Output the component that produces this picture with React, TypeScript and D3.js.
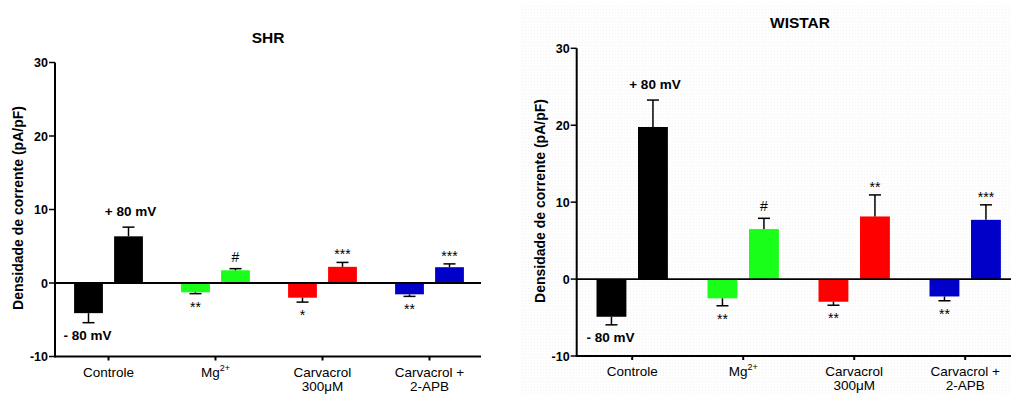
import * as d3 from 'd3';

const categories = ['Controle', 'Mg', 'Carvacrol', 'Carvacrol +'];
const categorySecondLine = ['', '', '300μM', '2-APB'];
const colors = ['#000000', '#1aff1a', '#ff0000', '#0000c8'];

// SHR values (pA/pF)
const shrNeg = [-4.1, -1.27, -2.0, -1.54];
const shrNegErr = [1.3, 0.18, 0.6, 0.28];
const shrPos = [6.35, 1.73, 2.2, 2.15];
const shrPosErr = [1.25, 0.22, 0.6, 0.45];
const shrNegSig = ['', '**', '*', '**'];
const shrPosSig = ['', '#', '***', '***'];

// WISTAR values (pA/pF)
const wistarNeg = [-4.9, -2.5, -2.95, -2.26];
const wistarNegErr = [1.05, 0.97, 0.45, 0.56];
const wistarPos = [19.77, 6.5, 8.14, 7.7];
const wistarPosErr = [3.5, 1.4, 2.8, 1.95];
const wistarNegSig = ['', '**', '**', '**'];
const wistarPosSig = ['', '#', '**', '***'];

const yTicks = [-10, 0, 10, 20, 30];

const FONT = 'Arial, "Liberation Sans", sans-serif';

interface PanelProps {
  title: string;
  neg: number[];
  negErr: number[];
  pos: number[];
  posErr: number[];
  negSig: string[];
  posSig: string[];
  x0: number;
  step: number;
  axisEnd: number;
  yTop: number;
  yBottom: number;
  titleX: number;
  titleY: number;
  labelX: number;
  labelY: number;
}

const Panel = (p: PanelProps) => {
  const x = d3.scaleBand<string>().domain(categories).range([p.x0, p.x0 + 4 * p.step]).padding(0);
  const y = d3.scaleLinear().domain([-10, 30]).range([p.yBottom, p.yTop]);
  const span = p.step * 0.643;
  const sub = d3.scaleBand<string>().domain(['neg', 'pos']).range([-span / 2, span / 2]).paddingInner(0.28);
  const bw = sub.bandwidth();
  const y0 = y(0);
  const cap = 12;

  return (
    <g>
      <text x={p.titleX} y={p.titleY} textAnchor="middle" fontSize={15.5} fontWeight="bold" fontFamily={FONT}>
        {p.title}
      </text>
      <text
        transform={`translate(${p.labelX},${p.labelY}) rotate(-90)`}
        textAnchor="middle"
        fontSize={14}
        fontWeight="bold"
        fontFamily={FONT}
      >
        Densidade de corrente (pA/pF)
      </text>

      {categories.map((c, i) => {
        const cx = (x(c) as number) + p.step / 2;
        const bars = [
          { key: 'neg', v: p.neg[i], e: p.negErr[i], sig: p.negSig[i] },
          { key: 'pos', v: p.pos[i], e: p.posErr[i], sig: p.posSig[i] },
        ];
        return (
          <g key={c}>
            {bars.map((b) => {
              const bx = cx + (sub(b.key) as number);
              const mid = bx + bw / 2;
              const yv = y(b.v);
              const ye = y(b.v + Math.sign(b.v) * b.e);
              return (
                <g key={b.key}>
                  <rect x={bx} y={Math.min(yv, y0)} width={bw} height={Math.abs(yv - y0)} fill={colors[i]} />
                  <line x1={mid} x2={mid} y1={yv} y2={ye} stroke="#000" strokeWidth={1.5} />
                  <line x1={mid - cap / 2} x2={mid + cap / 2} y1={ye} y2={ye} stroke="#000" strokeWidth={1.5} />
                  {b.sig && (
                    <text
                      x={mid}
                      y={b.v < 0 ? ye + 18 : ye - (b.sig === '#' ? 7 : 3)}
                      textAnchor="middle"
                      fontSize={14}
                      fontFamily={FONT}
                    >
                      {b.sig}
                    </text>
                  )}
                  {i === 0 && (
                    <text
                      x={mid + (b.v > 0 ? 2 : -1)}
                      y={b.v < 0 ? ye + 17 : ye - 11}
                      textAnchor="middle"
                      fontSize={13.5}
                      fontWeight="bold"
                      fontFamily={FONT}
                    >
                      {b.v < 0 ? '- 80 mV' : '+ 80 mV'}
                    </text>
                  )}
                </g>
              );
            })}
            <line x1={cx} x2={cx} y1={p.yBottom} y2={p.yBottom + 4} stroke="#000" strokeWidth={2} />
            <text x={cx} y={p.yBottom + 20} textAnchor="middle" fontSize={13.5} fontFamily={FONT}>
              {c}
              {c === 'Mg' && (
                <tspan fontSize={9} dy={-6}>
                  2+
                </tspan>
              )}
            </text>
            {categorySecondLine[i] && (
              <text x={cx} y={p.yBottom + 34} textAnchor="middle" fontSize={13.5} fontFamily={FONT}>
                {categorySecondLine[i]}
              </text>
            )}
          </g>
        );
      })}

      {/* zero line */}
      <line x1={p.x0} x2={p.axisEnd} y1={y0} y2={y0} stroke="#000" strokeWidth={1.8} />
      {/* bottom axis */}
      <line x1={p.x0} x2={p.axisEnd} y1={p.yBottom} y2={p.yBottom} stroke="#000" strokeWidth={2} />
      {/* y axis */}
      <line x1={p.x0} x2={p.x0} y1={p.yTop} y2={p.yBottom + 1} stroke="#000" strokeWidth={2} />
      {yTicks.map((t) => (
        <g key={t}>
          <line x1={p.x0 - 6} x2={p.x0} y1={y(t)} y2={y(t)} stroke="#000" strokeWidth={1.5} />
          <text
            x={p.x0 - 7}
            y={y(t)}
            dy="0.36em"
            textAnchor="end"
            fontSize={12.5}
            fontWeight="bold"
            fontFamily={FONT}
          >
            {t}
          </text>
        </g>
      ))}
    </g>
  );
};

export default function App() {
  return (
    <svg width={1011} height={394} style={{ position: 'absolute', left: 0, top: 0, background: '#fff' }}>
      <defs>
        <pattern id="dots" width={3} height={3} patternUnits="userSpaceOnUse">
          <rect width={3} height={3} fill="#fefefe" />
          <rect width={1} height={1} fill="#f3f3f3" />
        </pattern>
      </defs>
      <rect x={520} y={5} width={491} height={389} fill="url(#dots)" />
      <Panel
        title="SHR"
        neg={shrNeg}
        negErr={shrNegErr}
        pos={shrPos}
        posErr={shrPosErr}
        negSig={shrNegSig}
        posSig={shrPosSig}
        x0={55}
        step={107}
        axisEnd={481}
        yTop={62.5}
        yBottom={356.5}
        titleX={268}
        titleY={43}
        labelX={23}
        labelY={208}
      />
      <Panel
        title="WISTAR"
        neg={wistarNeg}
        negErr={wistarNegErr}
        pos={wistarPos}
        posErr={wistarPosErr}
        negSig={wistarNegSig}
        posSig={wistarPosSig}
        x0={576.7}
        step={111}
        axisEnd={1011}
        yTop={48.3}
        yBottom={356}
        titleX={800}
        titleY={28}
        labelX={545}
        labelY={201}
      />
    </svg>
  );
}
